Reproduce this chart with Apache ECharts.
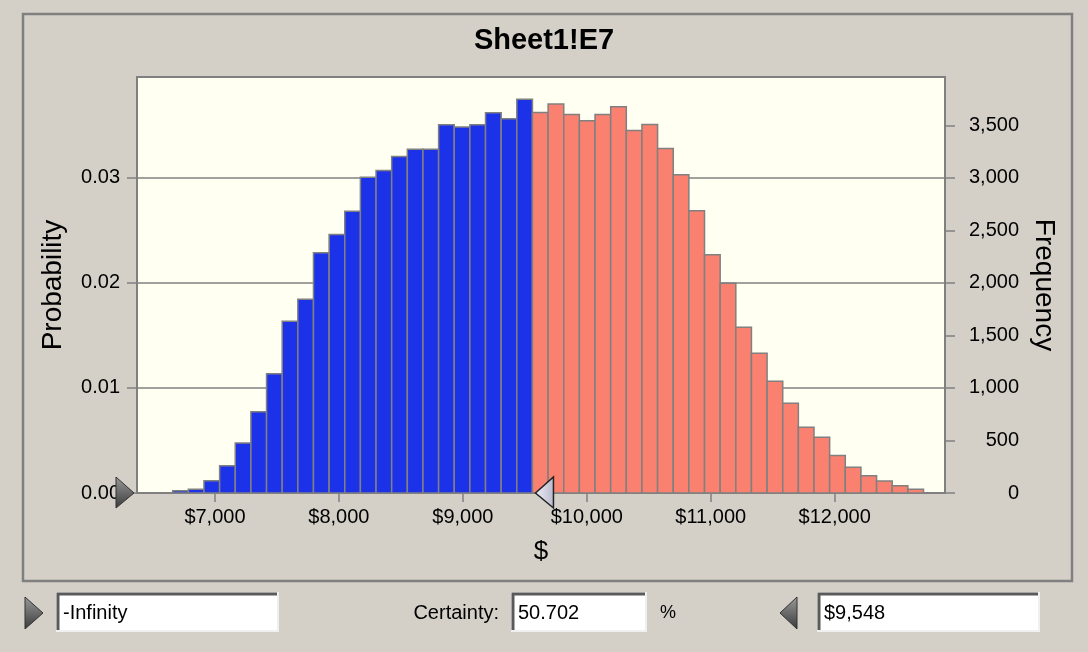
<!DOCTYPE html>
<html>
<head>
<meta charset="utf-8">
<title>Sheet1!E7</title>
<script src="https://cdn.jsdelivr.net/npm/echarts@6/dist/echarts.min.js"></script>
<style>
  html, body { margin: 0; padding: 0; background: #D4D0C8; }
  #chart { width: 1088px; height: 652px; }
</style>
</head>
<body>
<div id="chart"></div>
<script>
// histogram bins ($)
var binStart = 6659;
var binWidth = 126.2;
var frequency = [
    22, 35, 117, 260, 476, 774, 1136, 1635, 1845, 2286, 2460, 2683,
    3006, 3070, 3203, 3273, 3273, 3505, 3483, 3505, 3619, 3562, 3749,
    3622, 3702, 3603, 3543, 3603, 3676, 3451, 3508, 3279, 3029, 2686,
    2267, 1997, 1578, 1330, 1063, 854, 625, 530, 356, 244, 165, 114, 70, 35
];
var trials = 100000;
var cutoff = 9548;       // upper certainty bound
var certainty = '50.702';

// tick labels
var xTicks = [7000, 8000, 9000, 10000, 11000, 12000];
var probTicks = [0, 0.01, 0.02, 0.03];
var freqTicks = [0, 500, 1000, 1500, 2000, 2500, 3000, 3500];

var FONT = "'Liberation Sans', Arial, sans-serif";
var GREY = '#808080';

var bins = frequency.map(function (f, i) {
    var a = binStart + i * binWidth;
    var b = a + binWidth;
    return {
        value: [a, b, f],
        itemStyle: { color: (a + b) / 2 < cutoff ? '#1C32E8' : '#FA8070' }
    };
});

var chart = echarts.init(document.getElementById('chart'));

chart.setOption({
    animation: false,
    backgroundColor: '#D4D0C8',
    textStyle: { fontFamily: FONT },
    title: {
        text: 'Sheet1!E7',
        left: 'center',
        top: 21,
        textStyle: { fontSize: 29, fontWeight: 'bold', color: '#000', fontFamily: FONT }
    },
    grid: {
        left: 137, right: 143, top: 77, bottom: 159,
        show: true,
        backgroundColor: '#FFFFF2',
        borderColor: GREY,
        borderWidth: 2
    },
    xAxis: {
        type: 'value',
        min: 6371,
        max: 12890,
        name: '$',
        nameLocation: 'middle',
        nameGap: 46,
        nameTextStyle: { fontSize: 26, color: '#000', fontFamily: FONT },
        axisLine: { show: false },
        splitLine: { show: false },
        axisTick: { show: true, length: 9, customValues: xTicks, lineStyle: { color: GREY, width: 1.5 } },
        axisLabel: {
            customValues: xTicks,
            margin: 14,
            fontSize: 20,
            color: '#000',
            fontFamily: FONT,
            formatter: function (v) { return '$' + v.toLocaleString('en-US'); }
        }
    },
    yAxis: [{
        type: 'value',
        position: 'left',
        min: 0,
        max: 3960 / trials,
        name: 'Probability',
        nameLocation: 'middle',
        nameGap: 70,
        nameRotate: 90,
        nameTextStyle: { fontSize: 28, color: '#000', fontFamily: FONT },
        axisLine: { show: false },
        axisTick: { show: true, length: 10, customValues: probTicks, lineStyle: { color: GREY, width: 1.5 } },
        splitLine: { show: true, lineStyle: { color: GREY, width: 1.5 } },
        axisLabel: {
            customValues: probTicks,
            margin: 17,
            fontSize: 20,
            color: '#000',
            fontFamily: FONT,
            formatter: function (v) { return v.toFixed(2); }
        }
    }, {
        type: 'value',
        position: 'right',
        min: 0,
        max: 3960,
        name: 'Frequency',
        nameLocation: 'middle',
        nameGap: 84,
        nameRotate: -90,
        nameTextStyle: { fontSize: 28, color: '#000', fontFamily: FONT },
        axisLine: { show: false },
        axisTick: { show: true, length: 10, customValues: freqTicks, lineStyle: { color: GREY, width: 1.5 } },
        splitLine: { show: false },
        axisLabel: {
            customValues: freqTicks,
            margin: 74,
            align: 'right',
            fontSize: 20,
            color: '#000',
            fontFamily: FONT,
            formatter: function (v) { return v.toLocaleString('en-US'); }
        }
    }],
    series: [{
        type: 'custom',
        xAxisIndex: 0,
        yAxisIndex: 1,
        encode: { x: [0, 1], y: 2 },
        data: bins,
        renderItem: function (params, api) {
            var p0 = api.coord([api.value(0), api.value(2)]);
            var p1 = api.coord([api.value(1), 0]);
            return {
                type: 'rect',
                shape: { x: p0[0], y: p0[1], width: p1[0] - p0[0], height: p1[1] - p0[1] },
                style: { fill: api.visual('color'), stroke: GREY, lineWidth: 1.5 }
            };
        }
    }]
});

// markers and the controls under the chart
var nBlue = bins.filter(function (b) { return (b.value[0] + b.value[1]) / 2 < cutoff; }).length;
var split = chart.convertToPixel({ xAxisIndex: 0 }, binStart + nBlue * binWidth) + 3;
var base = chart.convertToPixel({ yAxisIndex: 1 }, 0);
var left = chart.convertToPixel({ xAxisIndex: 0 }, 6371);

function textBox(x, w, label) {
    return [{
        type: 'rect', shape: { x: x, y: 593, width: w, height: 38 },
        style: { fill: '#fff', stroke: '#F0F0F0', lineWidth: 2 }
    }, {
        type: 'polyline', shape: { points: [[x + 1, 630], [x + 1, 594], [x + w - 1, 594]] },
        style: { stroke: '#5A5A5A', lineWidth: 3, fill: null }
    }, {
        type: 'text', x: x + 6, y: 613,
        style: { text: label, font: '20px ' + FONT, fill: '#000', verticalAlign: 'middle' }
    }];
}

var grad = new echarts.graphic.LinearGradient(0, 0, 0, 1, [
    { offset: 0, color: '#9A9A9A' }, { offset: 1, color: '#3A3A3A' }
]);

chart.setOption({
    graphic: [{
        type: 'rect', silent: true, z: -1,
        shape: { x: 23, y: 14, width: 1049, height: 567 },
        style: { fill: null, stroke: GREY, lineWidth: 2.5 }
    }, {
        type: 'polygon',
        shape: { points: [[left - 3, base], [left - 21, base - 16], [left - 21, base + 15]] },
        style: { fill: grad, stroke: '#333', lineWidth: 1 }, z: 10
    }, {
        type: 'polygon',
        shape: { points: [[split, base], [split + 18, base - 16], [split + 18, base + 15]] },
        style: {
            fill: new echarts.graphic.LinearGradient(0, 0, 1, 0, [
                { offset: 0, color: '#F0F0F8' }, { offset: 1, color: '#B8B8CC' }
            ]),
            stroke: '#222', lineWidth: 1.5
        }, z: 10
    }, {
        type: 'polygon',
        shape: { points: [[43, 613], [25, 597], [25, 629]] },
        style: { fill: grad, stroke: '#333', lineWidth: 1 }
    }, {
        type: 'polygon',
        shape: { points: [[780, 613], [797, 597], [797, 629]] },
        style: { fill: grad, stroke: '#333', lineWidth: 1 }
    }].concat(
        textBox(57, 221, '-Infinity'),
        textBox(512, 134, certainty),
        textBox(818, 221, '$' + cutoff.toLocaleString('en-US')),
        [{
            type: 'text', x: 499, y: 613,
            style: { text: 'Certainty:', font: '20px ' + FONT, fill: '#000', align: 'right', verticalAlign: 'middle' }
        }, {
            type: 'text', x: 660, y: 613,
            style: { text: '%', font: '18px ' + FONT, fill: '#000', verticalAlign: 'middle' }
        }]
    )
});
</script>
</body>
</html>
